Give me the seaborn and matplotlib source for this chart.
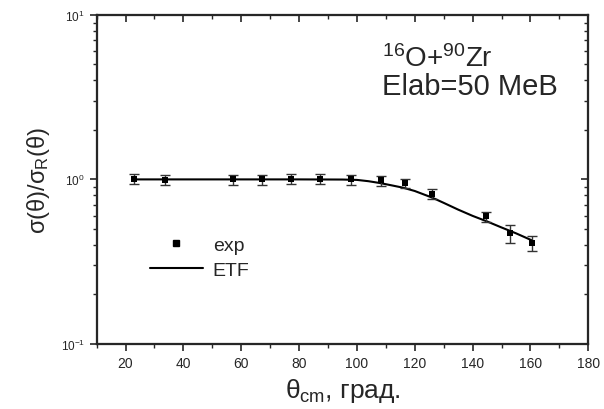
import numpy as np
import pandas as pd
import matplotlib
matplotlib.use("Agg")
import matplotlib.pyplot as plt
from matplotlib.lines import Line2D
import seaborn as sns

# experimental data
exp_theta = [23.0, 33.8, 57.0, 67.2, 77.3, 87.2, 98.1, 108.2, 116.6, 126.1, 144.5, 152.8, 160.6]
exp_ratio = [1.01, 0.99, 1.00, 1.00, 1.01, 1.01, 1.00, 0.985, 0.95, 0.82, 0.595, 0.47, 0.41]
exp_err = [0.075, 0.07, 0.07, 0.07, 0.07, 0.07, 0.07, 0.07, 0.06, 0.057, 0.042, 0.06, 0.045]

# ETF calculation
etf_theta = [23, 40, 60, 80, 95, 100, 104, 108, 112, 116, 120, 126, 130, 135, 140, 145, 150, 155, 160.6]
etf_ratio = [1.0, 1.0, 1.0, 1.0, 0.998, 0.993, 0.975, 0.95, 0.92, 0.89, 0.85, 0.775, 0.72,
             0.655, 0.60, 0.555, 0.51, 0.47, 0.425]

x_ticks = [20, 40, 60, 80, 100, 120, 140, 160, 180]

sns.set_style("ticks")
plt.rcParams["font.family"] = ["Liberation Sans", "DejaVu Sans"]
plt.rcParams["mathtext.fontset"] = "custom"
plt.rcParams["mathtext.rm"] = "Liberation Sans"
plt.rcParams["mathtext.it"] = "Liberation Sans"
plt.rcParams["mathtext.bf"] = "Liberation Sans:bold"

fig = plt.figure(figsize=(6.04, 4.10), dpi=100)
ax = fig.add_axes([0.160, 0.159, 0.814, 0.802])

etf_df = pd.DataFrame({"theta": etf_theta, "ratio": etf_ratio})
exp_df = pd.DataFrame({"theta": exp_theta, "ratio": exp_ratio, "err": exp_err})

sns.lineplot(data=etf_df, x="theta", y="ratio", ax=ax, color="black", lw=1.5,
             estimator=None, sort=True)
ax.errorbar(exp_df["theta"], exp_df["ratio"], yerr=exp_df["err"], fmt="none",
            ecolor="#333333", elinewidth=1.0, capsize=3.5, capthick=1.0)
sns.scatterplot(data=exp_df, x="theta", y="ratio", ax=ax, marker="s", s=22,
                color="black", edgecolor="black", linewidth=0, zorder=5)

ax.set_yscale("log")
ax.set_xlim(10, 180)
ax.set_ylim(0.1, 10)
ax.set_xticks(x_ticks)
ax.set_xticks(np.arange(10, 181, 20), minor=True)
ax.tick_params(axis="x", which="major", direction="out", length=5, width=1.2,
               labelsize=10, pad=4)
ax.tick_params(axis="y", which="major", direction="out", length=5, width=1.2,
               labelsize=8.5)
ax.tick_params(axis="both", which="minor", direction="out", length=3, width=1.0)
ax.tick_params(axis="y", which="minor", labelleft=False)
for s in ax.spines.values():
    s.set_linewidth(1.5)

# mirrored ticks on top and right, pointing inward
axt = ax.twiny()
axt.set_xlim(ax.get_xlim())
axt.set_xticks(x_ticks)
axt.set_xticks(np.arange(10, 181, 20), minor=True)
axt.tick_params(axis="x", which="major", direction="in", length=5, width=1.2, labeltop=False)
axt.tick_params(axis="x", which="minor", direction="in", length=3, width=1.0)
axr = ax.twinx()
axr.set_yscale("log")
axr.set_ylim(ax.get_ylim())
axr.tick_params(axis="y", which="major", direction="in", length=5, width=1.2, labelright=False)
axr.tick_params(axis="y", which="minor", direction="in", length=3, width=1.0, labelright=False)
for a in (axt, axr):
    for s in a.spines.values():
        s.set_linewidth(1.5)

ax.set_xlabel(r"$\theta_{\rm cm}$, град.", fontsize=19, labelpad=4)
ax.set_ylabel(r"$\sigma(\theta)/\sigma_{\rm R}(\theta)$", fontsize=17, labelpad=6)

ax.text(0.58, 0.87, r"$^{16}$O+$^{90}$Zr", transform=ax.transAxes, fontsize=20,
        ha="left", va="center")
ax.text(0.58, 0.785, "Elab=50 MeB", transform=ax.transAxes, fontsize=21,
        ha="left", va="center")

handles = [Line2D([], [], marker="s", color="black", ls="none", markersize=4.5),
           Line2D([], [], color="black", lw=1.5)]
ax.legend(handles, ["exp", "ETF"], loc="upper left", bbox_to_anchor=(0.092, 0.35),
          frameon=False, fontsize=14, handlelength=2.75, handletextpad=0.5,
          labelspacing=0.35, borderaxespad=0)

fig.savefig("out.png", dpi=100)
